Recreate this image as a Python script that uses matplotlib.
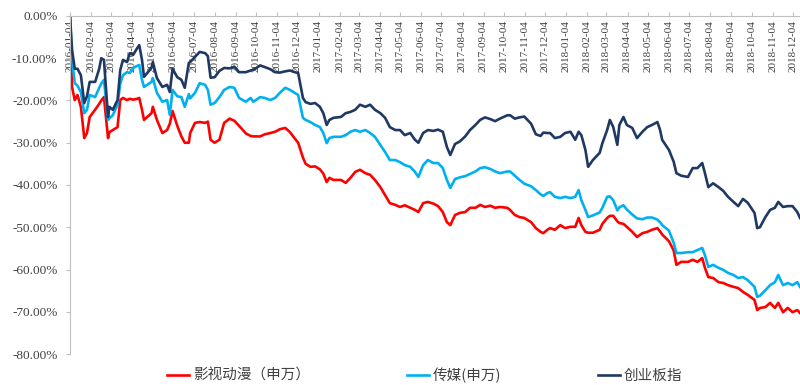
#Description
"""
Cumulative drawdown of the film & animation sector, the media sector
and the ChiNext index from 2016-01-04, drawn as three lines.
"""

#Libraries
import matplotlib
matplotlib.use('Agg')
import matplotlib.pyplot as plt
import matplotlib.dates as mdates
from matplotlib.ticker import FuncFormatter
import pandas as pd

#Constants
SERIF = 'Liberation Serif'
CJK = ['Noto Sans CJK SC', 'DejaVu Sans']
GREY = '#BFBFBF'
TEXT = '#404040'

#Data
dates = [
    '2016-01-04', '2016-01-07', '2016-01-11', '2016-01-15', '2016-01-20', '2016-01-25',
    '2016-01-29', '2016-02-02', '2016-02-10', '2016-02-16', '2016-02-19', '2016-02-23',
    '2016-02-29', '2016-03-02', '2016-03-07', '2016-03-14', '2016-03-18', '2016-03-22',
    '2016-03-28', '2016-04-01', '2016-04-06', '2016-04-12', '2016-04-15', '2016-04-19',
    '2016-04-22', '2016-05-03', '2016-05-05', '2016-05-11', '2016-05-19', '2016-05-26',
    '2016-05-30', '2016-06-03', '2016-06-10', '2016-06-16', '2016-06-21', '2016-06-27',
    '2016-06-29', '2016-07-06', '2016-07-13', '2016-07-21', '2016-07-25', '2016-07-29',
    '2016-08-04', '2016-08-11', '2016-08-18', '2016-08-26', '2016-09-02', '2016-09-09',
    '2016-09-19', '2016-09-26', '2016-09-30', '2016-10-10', '2016-10-17', '2016-10-25',
    '2016-11-01', '2016-11-08', '2016-11-16', '2016-11-23', '2016-11-30', '2016-12-05',
    '2016-12-12', '2016-12-16', '2016-12-23',
    '2016-12-30', '2017-01-06', '2017-01-11', '2017-01-16', '2017-01-20', '2017-01-26',
    '2017-02-06', '2017-02-13', '2017-02-20', '2017-02-27', '2017-03-06', '2017-03-14',
    '2017-03-21', '2017-03-28', '2017-04-05', '2017-04-12', '2017-04-19', '2017-04-27',
    '2017-05-04', '2017-05-11', '2017-05-19', '2017-05-26', '2017-05-31', '2017-06-07',
    '2017-06-14',
    '2017-06-22', '2017-06-29', '2017-07-06', '2017-07-12', '2017-07-17', '2017-07-24',
    '2017-07-31', '2017-08-08', '2017-08-15', '2017-08-23', '2017-08-30', '2017-09-06',
    '2017-09-14', '2017-09-21', '2017-09-28', '2017-10-09', '2017-10-13', '2017-10-20',
    '2017-10-27', '2017-11-03', '2017-11-13', '2017-11-20', '2017-11-27', '2017-12-01',
    '2017-12-07', '2017-12-11',
    '2017-12-18', '2017-12-26', '2018-01-02', '2018-01-10', '2018-01-17', '2018-01-22',
    '2018-01-26', '2018-02-01', '2018-02-05', '2018-02-12', '2018-02-22', '2018-02-26',
    '2018-03-05', '2018-03-09', '2018-03-14', '2018-03-20', '2018-03-23', '2018-03-29',
    '2018-04-03', '2018-04-11', '2018-04-18', '2018-04-26', '2018-05-03', '2018-05-10',
    '2018-05-18', '2018-05-22', '2018-05-25', '2018-06-04', '2018-06-11',
    '2018-06-15', '2018-06-22', '2018-07-02', '2018-07-09', '2018-07-16', '2018-07-23',
    '2018-07-27', '2018-08-01', '2018-08-08', '2018-08-16', '2018-08-23', '2018-08-30',
    '2018-09-07', '2018-09-14', '2018-09-21', '2018-09-28', '2018-10-08', '2018-10-12',
    '2018-10-16', '2018-10-24', '2018-10-31', '2018-11-07', '2018-11-12', '2018-11-19',
    '2018-11-26', '2018-12-03', '2018-12-10', '2018-12-14',
]

##影视动漫（申万）, cumulative change in %
film = [
    0, -16.8, -19.9, -18.7, -21.5, -28.9, -27.7, -23.9, -22.2, -20.8, -20, -19.2,
    -28.9, -27.5, -27, -26.3, -19.9, -19.4, -19.9, -19.6, -19.8, -19.6, -19.4, -22.2,
    -24.6, -23, -21.5, -24.6, -27.7, -27, -25.5, -22.5, -26, -28.5, -30, -30,
    -27.7, -25.3, -25.1, -25.3, -25, -29.3, -30, -29.3, -25.3, -24.3, -24.8, -26,
    -27.8, -28.4, -28.5, -28.5, -28, -27.7, -27.4, -26.8, -26.5, -27.5, -29, -30,
    -33.5, -35, -35.7,
    -35.6, -36.3, -37.3, -39.3, -38.3, -38.8, -38.8, -39.5, -38.3, -36.9, -36.4, -37.2,
    -37.6, -38.8, -40.5, -42.4, -44.3, -44.7, -45.2, -44.8, -45.4, -45.9, -46.4, -44.3,
    -44,
    -44.4, -45, -46.4, -48.8, -49.5, -47.1, -46.6, -46.4, -45.4, -45.4, -44.7, -45.2,
    -44.9, -45.4, -45.2, -45.4, -45.9, -47.1, -47.6, -47.8, -48.8, -50.2, -51.1, -51.4,
    -50.6, -50.2,
    -50.6, -49.5, -50.2, -49.9, -49.9, -47.8, -49.5, -51.1, -51.3, -51.3, -50.6, -49.2,
    -47.8, -47.3, -47.3, -48.6, -49, -49.2, -49.9, -51.1, -52.3, -51.4, -51.1, -50.6,
    -50.2, -51, -51.7, -53.3, -55.5,
    -58.9, -58.2, -58.2, -57.7, -58.2, -57.3, -59.6, -61.8, -62, -63, -63.2, -63.7,
    -64.1, -64.4, -65.3, -66, -67.2, -69.6, -69.1, -68.9, -67.9, -69.1, -67.9, -70.1,
    -69.1, -70.1, -69.6, -70.3,
]

##传媒(申万)
media = [
    0, -10, -15.9, -16.5, -18, -23, -22.2, -18.7, -19.2, -17, -16, -15.1,
    -24.6, -24.2, -23.5, -21, -16, -14, -13.3, -13.5, -12.3, -11.8, -11.6, -15.1,
    -16.8, -15.6, -14.7, -18.2, -20.3, -19.9, -23.4, -17.5, -19, -19.2, -21.5, -18.5,
    -19.5, -18.2, -15.9, -16.3, -17.5, -21, -20.6, -19.2, -17.5, -16.8, -17, -19.4,
    -20.3, -19.4, -20.3, -19.2, -19.4, -19.9, -19.4, -18.2, -17, -17.5, -18.2, -18.7,
    -24.1, -24.6, -25.1,
    -25.8, -26.3, -27.7, -30.1, -28.9, -28.6, -28.6, -28.2, -27.4, -27, -27.4, -27,
    -27.7, -28.6, -30.5, -32.2, -34.1, -34.1, -34.6, -35.3, -35.7, -36.9, -38.1, -35.3,
    -34.1,
    -34.8, -34.8, -36, -38.8, -40.7, -38.6, -38.2, -37.9, -37.4, -36.8, -36, -35.8,
    -36.2, -36.8, -37.2, -36.8, -36.8, -37.8, -38.8, -39.7, -40.3, -41.2, -42.2, -42.6,
    -41.9, -41.7,
    -42.8, -43.1, -42.8, -43.1, -42.8, -41.2, -43.6, -45.9, -47.6, -47.2, -46.5, -45.4,
    -42.8, -42.7, -43.6, -46, -45.3, -44.8, -45.8, -47, -47.9, -48.1, -47.7, -47.7,
    -48.2, -48.8, -49.5, -50.8, -53.7,
    -56.1, -56.1, -55.9, -55.9, -55.4, -54.9, -56.6, -59.4, -58.9, -59.6, -60.1, -60.8,
    -61.3, -62, -61.8, -62.5, -64.1, -66.5, -66.2, -64.9, -63.7, -63, -61.3, -63.7,
    -63.2, -63.7, -63, -64.1,
]

##创业板指
chinext = [
    0, -8, -12.5, -12.5, -14, -20.6, -19, -15.6, -15.6, -12.5, -10, -10.4,
    -23.9, -21.5, -22.2, -19.9, -12.8, -10.4, -10.9, -8.8, -9.2, -7.6, -6.9, -10.4,
    -14.4, -12.3, -10.9, -14.7, -16.8, -16.3, -18, -12.5, -14.5, -15.1, -17, -11.1,
    -10.9, -9.7, -8.5, -8.8, -9.5, -14.6, -14.5, -13, -12.3, -12.4, -12, -13.3,
    -13.3, -12.9, -12.8, -11.7, -12.1, -12.6, -13.3, -13.4, -13.1, -12.9, -13.3, -13.5,
    -19.4, -20.4, -20.8,
    -20.6, -21.5, -23, -25.8, -24.6, -24.1, -23.9, -23, -22.7, -22.2, -21, -21.5,
    -21, -22.2, -23, -24.1, -26.3, -27, -27, -28.2, -27.7, -29.3, -30, -27.7,
    -27,
    -27.2, -26.9, -27.4, -31, -32.9, -30.3, -29.7, -28.5, -27, -25.8, -24.6, -24,
    -24.4, -24.9, -24.3, -23.5, -23.5, -24.3, -24, -23.8, -25.5, -28, -28.4, -27.6,
    -27.7, -27.7,
    -28.9, -28.6, -27.7, -27.4, -29.3, -27.4, -28.2, -31.7, -35.7, -34.1, -32.4, -30.1,
    -27, -24.6, -26.3, -30.5, -25.8, -23.9, -25.8, -26.5, -28.9, -27.4, -26.3, -25.8,
    -25.1, -27, -29.3, -31.7, -34.5,
    -37.2, -37.8, -38.1, -36, -36, -34.8, -37.2, -40.5, -39.6, -40.5, -41.4, -42.8,
    -44, -45, -43.3, -44.2, -46.6, -50.2, -50, -47.6, -45.9, -45.4, -44, -45.2,
    -45, -45, -46.4, -47.8,
]

series_names = ['影视动漫（申万）', '传媒(申万)', '创业板指']
series_colors = ['#FF0000', '#00B0F0', '#1F3864']

tick_dates = pd.date_range('2016-01-04', '2018-12-04', freq=pd.DateOffset(months=1))
y_ticks = list(range(-80, 1, 10))


#Main
def main():
    ##Figure and axes
    fig = plt.figure(figsize=(8, 3.85), dpi=100)
    ax = fig.add_axes([0.0875, 0.0805, 0.9125, 0.878])

    ##Lines
    x = pd.to_datetime(dates)
    for values, name, color in zip([film, media, chinext], series_names, series_colors):
        ax.plot(x, values, color=color, lw=1.9, label=name, solid_joinstyle='round')

    ##Limits
    ax.set_xlim(pd.Timestamp('2016-01-04'), pd.Timestamp('2018-12-14'))
    ax.set_ylim(-80, 0)

    ##Spines
    ax.spines['bottom'].set_visible(False)
    ax.spines['right'].set_visible(False)
    ax.spines['top'].set_color(GREY)
    ax.spines['left'].set_color(GREY)

    ##Y axis
    ax.set_yticks(y_ticks)
    ax.yaxis.set_major_formatter(FuncFormatter(lambda v, _: '{:.2f}%'.format(v)))
    ax.tick_params(axis='y', direction='out', length=3, color=GREY, pad=6,
                   labelsize=9.5, labelcolor=TEXT)
    for lab in ax.get_yticklabels():
        lab.set_family(SERIF)

    ##X axis, monthly labels hanging under the zero line
    ax.xaxis.set_ticks_position('top')
    ax.set_xticks(tick_dates)
    ax.xaxis.set_major_formatter(mdates.DateFormatter('%Y-%m-%d'))
    ax.tick_params(axis='x', direction='out', length=3, color=GREY, pad=-6,
                   labeltop=True, labelbottom=False, labelsize=8,
                   labelcolor=TEXT, labelrotation=90)
    for lab in ax.get_xticklabels():
        lab.set_family(SERIF)
        lab.set_verticalalignment('top')

    ##Legend
    fig.legend(loc='center', bbox_to_anchor=(0.531, 0.026), ncol=3, frameon=False,
               prop={'family': CJK, 'size': 10.5}, handlelength=1.5,
               handletextpad=0.3, columnspacing=6.6, labelcolor=TEXT)

    fig.savefig('out.png', dpi=100)
    plt.close()


#Execution
if __name__ == '__main__':
    main()
